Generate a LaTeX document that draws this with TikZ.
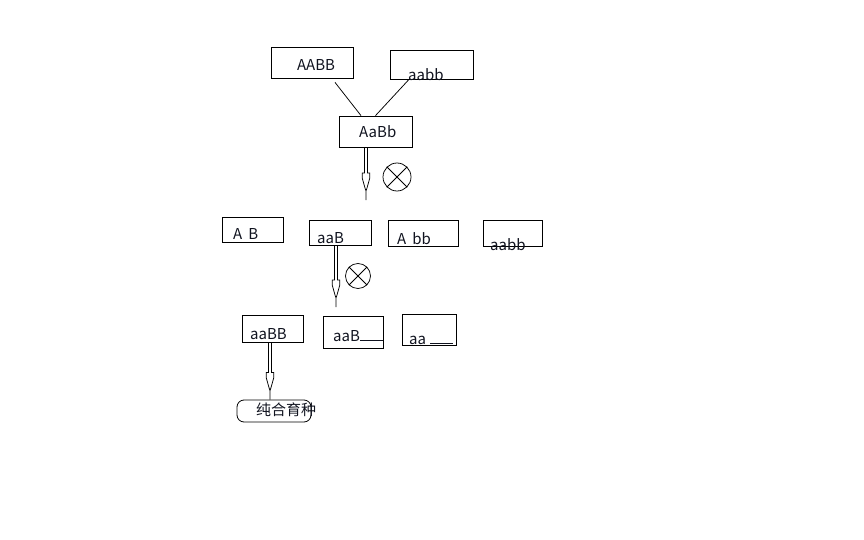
\documentclass[tikz,border=0pt]{standalone}
\usepackage{fontspec}
\setmainfont{Noto Sans CJK SC}
\usepackage{xcolor}
\usepackage{tikz}
\usetikzlibrary{positioning,calc}
\definecolor{TextDark}{HTML}{10131F}
\definecolor{LineDark}{HTML}{000000}

% hollow down arrow: #1 start, #2 tip end
\newcommand{\hollowarrow}[2]{%
  \draw[harr] let \p1=(#1), \p2=(#2) in
    (\x1-1.6pt,\y1) -- (\x1-1.6pt,\y2+27pt) -- (\x1-3.8pt,\y2+27pt)
    -- (\x1-3.8pt,\y2+22pt) -- (\x1-1pt,\y2+12pt) -- (\x1,\y2+9pt)
    -- (\x1+1pt,\y2+12pt) -- (\x1+3.8pt,\y2+22pt) -- (\x1+3.8pt,\y2+27pt)
    -- (\x1+1.6pt,\y2+27pt) -- (\x1+1.6pt,\y1)
    (\x1,\y2+9pt) -- (\x1,\y2);}

\begin{document}
\begin{tikzpicture}[x=1pt,y=-1pt,
          every node/.style={font=\fontsize{15pt}{17pt}\selectfont,text=TextDark},
          bx/.style={draw=LineDark,line width=0.8pt,inner sep=0pt},
          lbl/.style={anchor=base west,inner sep=0pt},
          ln/.style={LineDark,line width=0.75pt},
          harr/.style={LineDark,line width=0.75pt},
          xc/.style={draw=LineDark,line width=0.75pt,circle,inner sep=0pt}]
        \useasboundingbox (0,0) rectangle (864,540);
        % parents
        \node[bx, minimum width=82pt, minimum height=31pt] (p1) at (312,62.5) {};
        \node[bx, minimum width=83pt, minimum height=29pt] (p2) at (431.5,64.5) {};
        \node[lbl] (tp1) at (297,71) {AABB};
        \node[lbl] (tp2) at (408,81) {aabb};
        % F1
        \node[bx, minimum width=73pt, minimum height=31pt] (f1) at (375.5,131.5) {};
        \node[lbl] (tf1) at (359,138) {AaBb};
        \draw[ln] ([xshift=23pt,yshift=-4pt]p1.south) -- ([xshift=-14.5pt]f1.north);
        \draw[ln] ([xshift=-22.5pt]p2.south) -- (f1.north);
        \coordinate (a1s) at ([xshift=-9.5pt]f1.south);
        \coordinate (a1e) at (366,200);
        \hollowarrow{a1s}{a1e}
        \node[xc, minimum size=28pt] (x1) at (397,177) {};
        \draw[ln] (x1.north west) -- (x1.south east) (x1.north east) -- (x1.south west);
        % F2
        \node[bx, minimum width=61pt, minimum height=25pt] (g1) at (252.5,229.5) {};
        \node[bx, minimum width=62pt, minimum height=25pt] (g2) at (340,232.5) {};
        \node[bx, minimum width=70pt, minimum height=26pt] (g3) at (423,233) {};
        \node[bx, minimum width=59pt, minimum height=26pt] (g4) at (512.5,233) {};
        \node[lbl] (tg1) at (233,239) {A\hspace{6pt}B};
        \node[lbl] (tg2) at (317,243) {aaB};
        \node[lbl] (tg3) at (397,244) {A\hspace{6pt}bb};
        \node[lbl] (tg4) at (490,250) {aabb};
        \coordinate (a2s) at ([xshift=-4pt]g2.south);
        \coordinate (a2e) at (336,307);
        \hollowarrow{a2s}{a2e}
        \node[xc, minimum size=25pt] (x2) at (358,276) {};
        \draw[ln] (x2.north west) -- (x2.south east) (x2.north east) -- (x2.south west);
        % F3
        \node[bx, minimum width=61pt, minimum height=27pt] (h1) at (272.5,328.5) {};
        \node[bx, minimum width=60pt, minimum height=32pt] (h2) at (353,332) {};
        \node[bx, minimum width=54pt, minimum height=31pt] (h3) at (429,329.5) {};
        \node[lbl] (th1) at (250,339) {aaBB};
        \node[lbl] (th2) at (333,341) {aaB\rule{23pt}{0.8pt}};
        \node[lbl] (th3) at (409,344) {aa\hspace{4pt}\rule{23pt}{0.8pt}};
        \node[bx, rounded corners=7pt, minimum width=74pt, minimum height=22pt] (pure) at (274,411) {};
        \node[inner sep=0pt] (tpure) at (286,409.5) {纯合育种};
        \coordinate (a3s) at ([xshift=-2.5pt]h1.south);
        \coordinate (a3e) at ([xshift=-4pt]pure.north);
        \hollowarrow{a3s}{a3e}
      \end{tikzpicture}
\end{document}
